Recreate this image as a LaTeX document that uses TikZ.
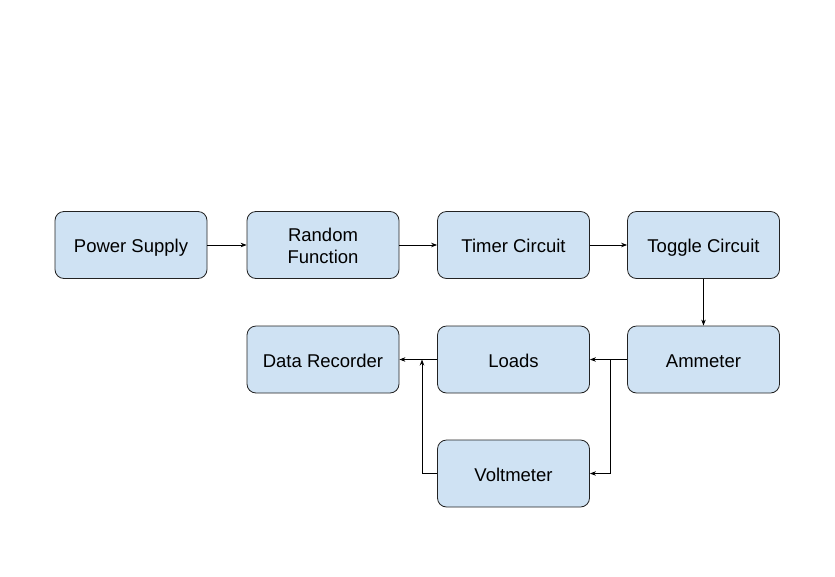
\documentclass[tikz,border=0pt]{standalone}
\usepackage{fontspec}
\setmainfont{Liberation Sans}
\usetikzlibrary{arrows.meta}
\definecolor{boxfill}{HTML}{CFE2F3}
\definecolor{boxline}{HTML}{222222}
\begin{document}
\begin{tikzpicture}[x=1pt,y=-1pt,
  blk/.style={draw=boxline, fill=boxfill, rounded corners=9pt, line width=0.8pt,
    minimum width=152pt, minimum height=67pt, inner sep=0pt,
    text height=17.4pt, text depth=2pt,
    font=\fontsize{18.5}{21.6}\selectfont},
  conn/.style={draw=black, line width=0.8pt, -{Stealth[length=6pt,width=4.5pt]}}]
\useasboundingbox (0,0) rectangle (835,576);
\node[blk] (ps) at (131,245) {Power Supply};
\node[blk, text depth=23.8pt] (rf) at (323,245) {\begin{tabular}[t]{@{}c@{}}Random\\Function\end{tabular}};
\node[blk] (tc) at (513.5,245) {Timer Circuit};
\node[blk] (tg) at (703.5,245) {Toggle Circuit};
\node[blk] (dr) at (323,359.5) {Data Recorder};
\node[blk] (ld) at (513.5,359.5) {Loads};
\node[blk] (am) at (703.5,359.5) {Ammeter};
\node[blk] (vm) at (513.5,473.5) {Voltmeter};
\coordinate (split) at (610,359.5);
\coordinate (join) at (422,359.5);
\draw[conn] (ps) -- (rf);
\draw[conn] (rf) -- (tc);
\draw[conn] (tc) -- (tg);
\draw[conn] (tg) -- (am);
\draw[conn] (am) -- (ld);
\draw[conn] (split) |- (vm);
\draw[conn] (ld) -- (dr);
\draw[conn] (vm.west) -| (join);
\end{tikzpicture}
\end{document}
